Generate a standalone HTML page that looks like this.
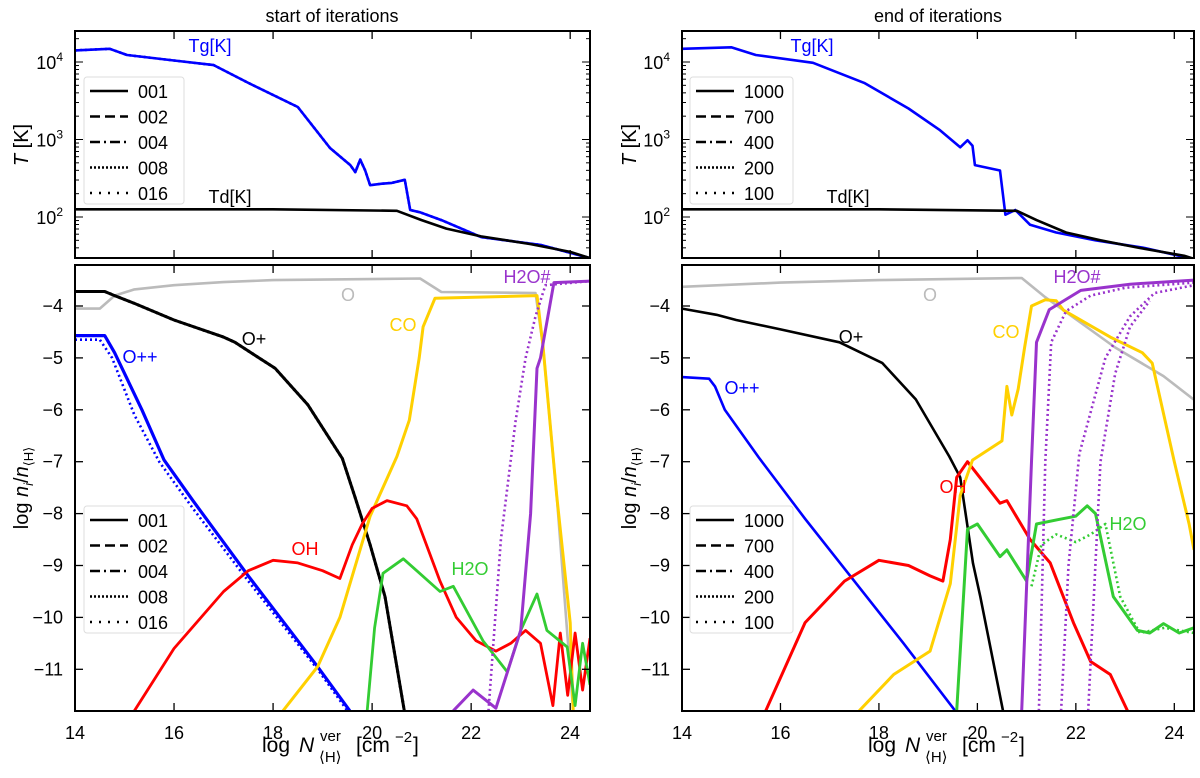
<!DOCTYPE html>
<html><head><meta charset="utf-8"><style>
body{margin:0;background:#fff;width:1200px;height:773px;overflow:hidden}
svg{font-family:"Liberation Sans","DejaVu Sans",sans-serif}
</style></head><body>
<svg id="c" width="1200" height="773" viewBox="0 0 1200 773"></svg>
<script>
// ---- data (x = log N, y = log T or log n_i/n_H) ----
const xTicks=[14,16,18,20,22,24];
const yTicksTop=[2,3,4];
const yTicksBot=[-4,-5,-6,-7,-8,-9,-10,-11];
const legendLeft=["001","002","004","008","016"];
const legendRight=["1000","700","400","200","100"];
// left top
const L_Tg_x=[14,14.7,15.05,16,16.8,17.5,18.5,19.15,19.56,19.66,19.76,19.86,19.96,20.2,20.4,20.66,20.77,20.97,21.4,22.2,23.4,24.4];
const L_Tg_y=[4.15,4.17,4.09,4.02,3.96,3.73,3.42,2.89,2.67,2.58,2.74,2.6,2.41,2.43,2.44,2.48,2.09,2.06,1.96,1.74,1.64,1.47];
const L_Td_x=[14,18,20.5,21,21.5,22.2,23.2,24,24.4];
const L_Td_y=[2.1,2.1,2.08,1.96,1.85,1.75,1.65,1.55,1.47];
// right top
const R_Tg_x=[14,15,15.5,16.66,17.7,18.6,19.24,19.65,19.8,19.9,19.95,20.46,20.57,20.77,21.07,21.6,22.4,23.4,24.3];
const R_Tg_y=[4.17,4.19,4.09,3.99,3.73,3.4,3.12,2.9,2.99,2.92,2.67,2.6,2.03,2.09,1.9,1.8,1.7,1.6,1.47];
const R_Td_x=[14,18,20.8,21.2,21.8,22.5,23.3,24.2,24.4];
const R_Td_y=[2.1,2.1,2.08,1.96,1.8,1.7,1.6,1.5,1.46];
// left bottom
const L_O_x=[14,14.5,14.8,15.2,16,17,18,20.97,21.4,23.3,23.45,23.73,24.06];
const L_O_y=[-4.05,-4.05,-3.8,-3.68,-3.6,-3.54,-3.5,-3.47,-3.73,-3.75,-4.77,-7.67,-11.8];
const L_Op_x=[14,14.6,14.8,15.2,16,17,17.23,18.04,18.7,19.4,19.66,19.96,20.26,20.65];
const L_Op_y=[-3.72,-3.72,-3.8,-3.95,-4.27,-4.6,-4.7,-5.2,-5.9,-6.94,-7.7,-8.6,-9.6,-11.8];
const L_Opp_x=[14,14.6,14.8,15.35,15.8,16.38,17.5,18.9,19.55];
const L_Opp_y=[-4.57,-4.57,-4.9,-6.0,-6.97,-7.75,-9.2,-10.95,-11.8];
const L_OH_x=[15.2,16,17,17.5,18,18.5,19,19.35,19.6,19.8,20,20.3,20.7,20.9,21.37,21.7,22.1,22.5,22.8,23.1,23.4,23.65,23.8,23.95,24.1,24.25,24.4];
const L_OH_y=[-11.8,-10.6,-9.5,-9.1,-8.9,-8.95,-9.1,-9.25,-8.6,-8.2,-7.9,-7.75,-7.85,-8.1,-9.3,-10.0,-10.45,-10.65,-10.5,-10.25,-10.5,-11.7,-10.3,-11.5,-10.3,-11.4,-10.4];
const L_CO_x=[18.2,18.9,19.35,19.96,20.5,20.75,20.95,21.03,21.27,23.33,23.45,23.73,24.0,24.06];
const L_CO_y=[-11.8,-10.95,-10.0,-8.05,-6.9,-6.2,-5.0,-4.4,-3.85,-3.8,-4.77,-7.67,-10.1,-11.8];
const L_H2O_x=[19.9,20.05,20.22,20.63,20.9,21.37,21.64,22.24,22.73,23.0,23.33,23.53,23.94,24.1,24.25,24.4];
const L_H2O_y=[-11.8,-10.2,-9.15,-8.87,-9.1,-9.5,-9.4,-10.45,-11.05,-10.25,-9.55,-10.25,-10.57,-11.7,-10.5,-11.3];
const L_H2Os_x=[21.64,22.04,22.5,23.0,23.2,23.33,23.4,23.67,24.4];
const L_H2Os_y=[-11.8,-11.4,-11.75,-10.25,-8.0,-5.2,-5.0,-3.55,-3.52];
const L_H2Osd_x=[22.35,22.6,22.9,23.1,23.3,23.5,24.4];
const L_H2Osd_y=[-11.8,-8.5,-6.2,-5.0,-4.2,-3.6,-3.52];
const L_Oppd_x=[14,14.5,14.75,15.2,15.7,16.38,17.5,18.9,19.5];
const L_Oppd_y=[-4.65,-4.65,-5.0,-6.1,-7.0,-7.9,-9.3,-11.0,-11.8];
// right bottom
const R_O_x=[14,16,18,20.9,21.38,22.8,23.78,24.39];
const R_O_y=[-3.63,-3.55,-3.5,-3.46,-3.83,-4.8,-5.35,-5.8];
const R_Op_x=[14,14.7,15.1,16,17.2,18.07,18.75,19.43,19.65,19.91,20.06,20.52];
const R_Op_y=[-4.05,-4.17,-4.27,-4.45,-4.7,-5.1,-5.8,-6.9,-7.3,-8.96,-9.6,-11.8];
const R_Opp_x=[14,14.55,14.67,14.87,15.56,16.5,17.5,18.5,19.55];
const R_Opp_y=[-5.37,-5.4,-5.55,-6.0,-6.92,-8.1,-9.3,-10.5,-11.8];
const R_OH_x=[15.7,16.5,17.3,18.0,18.6,19.04,19.3,19.45,19.58,19.8,20.46,20.6,21.07,21.48,21.95,22.3,22.7,23.05];
const R_OH_y=[-11.8,-10.1,-9.3,-8.9,-9.0,-9.2,-9.3,-8.5,-7.3,-7.0,-7.8,-7.75,-8.5,-8.95,-10.1,-10.85,-11.1,-11.8];
const R_CO_x=[17.6,18.3,19.04,19.45,19.65,19.9,20.5,20.6,20.7,20.83,20.96,21.1,21.38,21.6,21.75,22.7,23.35,23.55,24.0,24.3,24.4];
const R_CO_y=[-11.8,-11.1,-10.65,-9.35,-7.65,-6.97,-6.6,-5.55,-6.1,-5.6,-4.8,-4.0,-3.88,-3.9,-4.08,-4.6,-4.9,-5.1,-7.0,-8.2,-8.7];
const R_H2O_x=[19.58,19.8,20.0,20.46,20.6,21.0,21.2,21.62,22.0,22.23,22.4,22.76,23.25,23.5,23.78,24.1,24.4];
const R_H2O_y=[-11.8,-8.3,-8.2,-8.83,-8.7,-9.3,-8.2,-8.12,-8.05,-7.85,-8.0,-9.6,-10.25,-10.3,-10.12,-10.3,-10.2];
const R_H2Od_x=[21.1,21.3,21.6,22.0,22.3,22.6,22.9,23.3,23.8,24.4];
const R_H2Od_y=[-9.4,-8.6,-8.4,-8.55,-8.4,-8.2,-9.6,-10.3,-10.2,-10.3];
const R_H2Os_x=[20.9,21.1,21.2,21.46,22.1,23.1,24.4];
const R_H2Os_y=[-11.8,-7.0,-4.7,-4.07,-3.7,-3.58,-3.5];
const R_H2Osd1_x=[21.25,21.38,21.5,21.8,22.3,23.0,24.4];
const R_H2Osd1_y=[-11.8,-7.0,-4.7,-4.1,-3.8,-3.65,-3.55];
const R_H2Osd2_x=[21.7,21.85,22.07,22.6,23.1,23.6,24.4];
const R_H2Osd2_y=[-11.8,-9.0,-6.85,-5.0,-4.2,-3.75,-3.6];
const R_H2Osd3_x=[22.25,22.5,22.8,23.1,23.5];
const R_H2Osd3_y=[-11.8,-7.0,-5.3,-4.4,-3.9];

const NS="http://www.w3.org/2000/svg";
const svg=document.getElementById('c');
function el(tag,attrs,parent){const e=document.createElementNS(NS,tag);for(const k in attrs)e.setAttribute(k,attrs[k]);(parent||svg).appendChild(e);return e;}
const panels={
 LT:{x0:75,x1:590,y0:31,y1:258,top:true},
 LB:{x0:75,x1:590,y0:265,y1:711,top:false},
 RT:{x0:682,x1:1194,y0:31,y1:258,top:true},
 RB:{x0:682,x1:1194,y0:265,y1:711,top:false}
};
function X(p,v){return p.x0+(v-14)*(p.x1-p.x0)/10.4;}
function Y(p,v){return p.top?62+(4-v)*77.5:306+(-4-v)*51.9;}
for(const k in panels){const p=panels[k];
 const cp=el('clipPath',{id:'cp'+k});
 el('rect',{x:p.x0,y:p.y0,width:p.x1-p.x0,height:p.y1-p.y0},cp);
 p.g=el('g',{'clip-path':'url(#cp'+k+')'});
}
function line(pk,xs,ys,color,dash,name,w){const p=panels[pk];
 const d=xs.map((v,i)=>(i?'L':'M')+X(p,v).toFixed(1)+' '+Y(p,ys[i]).toFixed(1)).join(' ');
 const e=el('path',{d:d,fill:'none',stroke:color,'stroke-width':w||2.6,'stroke-dasharray':dash||'none','stroke-linejoin':'round'},p.g);
 
 
}
const BL='#0000ff',BK='#000',GR='#bbbbbb',RD='#ff0000',YL='#ffd000',GN='#33cc33',PU='#9933cc';
const DOT='2,3';
line('LT',L_Tg_x,L_Tg_y,BL,DOT,'tg-dotted-left');
line('LT',L_Tg_x,L_Tg_y,BL,null,'tg-line-left');
line('LT',L_Td_x,L_Td_y,BK,null,'td-line-left');
line('RT',R_Tg_x,R_Tg_y,BL,null,'tg-line-right');
line('RT',R_Td_x,R_Td_y,BK,null,'td-line-right');
line('LB',L_O_x,L_O_y,GR,null,'o-line-left');
line('LB',L_Op_x,L_Op_y,BK,DOT,'o-plus-dotted-left',3);
line('LB',L_Op_x,L_Op_y,BK,null,'o-plus-line-left',3);
line('LB',L_Oppd_x,L_Oppd_y,BL,DOT,'o-plusplus-dotted-left');
line('LB',L_Opp_x,L_Opp_y,BL,null,'o-plusplus-line-left',3.2);
line('LB',L_CO_x,L_CO_y,YL,null,'co-line-left',3);
line('LB',L_OH_x,L_OH_y,RD,null,'oh-line-left',2.8);
line('LB',L_H2O_x,L_H2O_y,GN,null,'h2o-line-left',2.8);
line('LB',L_H2Osd_x,L_H2Osd_y,PU,DOT,'h2o-ice-dotted-left');
line('LB',L_H2Os_x,L_H2Os_y,PU,null,'h2o-ice-line-left',3);
line('RB',R_O_x,R_O_y,GR,null,'o-line-right');
line('RB',R_Op_x,R_Op_y,BK,null,'o-plus-line-right');
line('RB',R_Opp_x,R_Opp_y,BL,null,'o-plusplus-line-right');
line('RB',R_OH_x,R_OH_y,RD,null,'oh-line-right',3);
line('RB',R_CO_x,R_CO_y,YL,null,'co-line-right',3);
line('RB',R_H2Od_x,R_H2Od_y,GN,DOT,'h2o-dotted-right');
line('RB',R_H2O_x,R_H2O_y,GN,null,'h2o-line-right',3);
line('RB',R_H2Osd1_x,R_H2Osd1_y,PU,DOT,'h2o-ice-dotted-right-1');
line('RB',R_H2Osd2_x,R_H2Osd2_y,PU,DOT,'h2o-ice-dotted-right-2');
line('RB',R_H2Osd3_x,R_H2Osd3_y,PU,DOT,'h2o-ice-dotted-right-3');
line('RB',R_H2Os_x,R_H2Os_y,PU,null,'h2o-ice-line-right',3);

function txt(x,y,s,opt,name){const t=el('text',Object.assign({x:x,y:y,'font-size':18,fill:'#000'},opt||{}));t.textContent=s;
 return t;}
for(const k in panels){const p=panels[k];
 const r=el('rect',{x:p.x0,y:p.y0,width:p.x1-p.x0,height:p.y1-p.y0,fill:'none',stroke:'#000','stroke-width':2});
 
 xTicks.forEach(v=>{const x=X(p,v);
  el('line',{x1:x,x2:x,y1:p.y1,y2:p.y1-8,stroke:'#000','stroke-width':1.3});
  el('line',{x1:x,x2:x,y1:p.y0,y2:p.y0+8,stroke:'#000','stroke-width':1.3});
  if(!p.top) txt(x,p.y1+28,String(v),{'text-anchor':'middle'},'x-tick-label');
 });
 if(p.top){
  for(let dec=1;dec<=4;dec++){for(let m=1;m<10;m++){const v=dec+Math.log10(m);const y=Y(p,v);
   if(y<p.y0||y>p.y1)continue;const L=m==1?8:4;
   el('line',{x1:p.x0,x2:p.x0+L,y1:y,y2:y,stroke:'#000','stroke-width':1});
   el('line',{x1:p.x1,x2:p.x1-L,y1:y,y2:y,stroke:'#000','stroke-width':1});}}
  yTicksTop.forEach(v=>{const t=txt(p.x0-12,Y(p,v)+7,'10',{'text-anchor':'end'},'y-tick-label');
   const s=el('tspan',{dy:-8,'font-size':12},t);s.textContent=String(v);});
 } else {
  yTicksBot.forEach(v=>{const y=Y(p,v);
   el('line',{x1:p.x0,x2:p.x0+8,y1:y,y2:y,stroke:'#000','stroke-width':1.3});
   el('line',{x1:p.x1,x2:p.x1-8,y1:y,y2:y,stroke:'#000','stroke-width':1.3});
   txt(p.x0-12,y+6,'\u2212'+Math.abs(v),{'text-anchor':'end'},'y-tick-label');});
 }
}
txt(332,22,'start of iterations',{'text-anchor':'middle'},'title-left');
txt(938,22,'end of iterations',{'text-anchor':'middle'},'title-right');
[[28,262],[636,868]].forEach(([lx,sx])=>{
 let t=txt(lx,145,'',{},'y-axis-title-top');t.innerHTML='<tspan font-style="italic">T</tspan> [K]';
 t.setAttribute('transform','rotate(-90 '+lx+' 145)');t.setAttribute('text-anchor','middle');t.setAttribute('font-size','20');
 t=txt(lx,488,'',{},'y-axis-title-bottom');t.innerHTML='log <tspan font-style="italic">n</tspan><tspan font-style="italic" font-size="13" dy="5">i</tspan><tspan dy="-5">/</tspan><tspan font-style="italic">n</tspan><tspan font-size="13" dy="5">⟨H⟩</tspan>';
 t.setAttribute('transform','rotate(-90 '+lx+' 488)');t.setAttribute('text-anchor','middle');t.setAttribute('font-size','20');
 txt(sx,752,'log',{'font-size':21},'x-axis-title');
 txt(sx+37,752,'N',{'font-size':21,'font-style':'italic'},'x-axis-title-n');
 txt(sx+58,741,'ver',{'font-size':15},'x-axis-title-sup');
 txt(sx+57,762,'⟨H⟩',{'font-size':15},'x-axis-title-sub');
 txt(sx+94,752,'[cm',{'font-size':21},'x-axis-title-unit');
 txt(sx+133,742,'−2',{'font-size':15},'x-axis-title-exp');
 txt(sx+151,752,']',{'font-size':21},'x-axis-title-bracket');
});
const lab=[[210,52,'Tg[K]',BL],[230,203,'Td[K]',BK],[812,52,'Tg[K]',BL],[848,203,'Td[K]',BK],
[348,301,'O',GR],[254,345,'O+',BK],[140,363,'O++',BL],[403,331,'CO',YL],[305,555,'OH',RD],[470,575,'H2O',GN],[527,283,'H2O#',PU],
[930,301,'O',GR],[851,343,'O+',BK],[742,394,'O++',BL],[1006,338,'CO',YL],[953,493,'OH',RD],[1128,530,'H2O',GN],[1077,283,'H2O#',PU]];
lab.forEach(a=>txt(a[0],a[1],a[2],{fill:a[3],'text-anchor':'middle','font-size':18},'species-label-'+a[2].toLowerCase()));
const dashes=[null,'10,5','10,4,2,4','2,2','2,7'];
[[84,77,legendLeft],[690,77,legendRight],[84,506,legendLeft],[690,506,legendRight]].forEach(([x,y,labels])=>{
 const w=labels[0].length>3?103:100;
 const b=el('rect',{x:x,y:y,width:w,height:127,rx:3,fill:'#fff','fill-opacity':0.85,stroke:'#ddd'});
 
 labels.forEach((s,i)=>{const yy=y+14+i*25.5;
  const l=el('line',{x1:x+6,x2:x+44,y1:yy,y2:yy,stroke:'#000','stroke-width':2.6,'stroke-dasharray':dashes[i]||'none'});
  
  txt(x+54,yy+7,s,{'font-size':18},'legend-entry');});
});
</script>
</body></html>
